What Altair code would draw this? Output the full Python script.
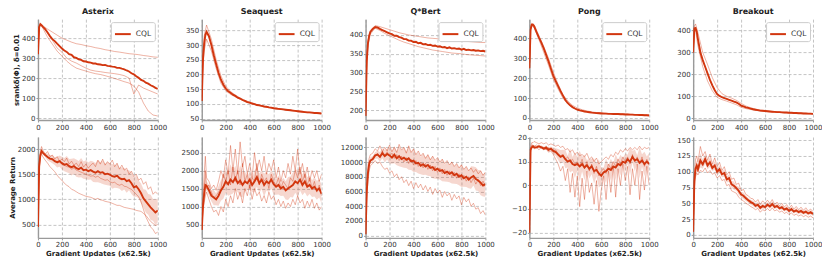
import altair as alt
import numpy as np
import pandas as pd

# ---------------- x grids (gradient updates, x62.5k) ----------------
XM = [0, 10, 20, 30, 40] + list(range(60, 1001, 20))          # 53 points
XS = [0, 10, 20, 40] + list(range(80, 1001, 40))              # 28 points

GAMES = ["Asterix", "Seaquest", "Q*Bert", "Pong", "Breakout"]
METHOD = "CQL"
RED = "#d2360f"

# ---------------- srank (top row) ----------------
AST_SR_MEAN = [320, 455, 470, 465, 458,
               445, 428, 410, 395, 385, 372, 360, 348,
               338, 331, 320, 316, 304, 301, 294, 291, 284, 283,
               279, 277, 273, 273, 269, 268, 265, 266, 261, 260,
               257, 256, 251, 251, 247, 244, 238, 233, 224, 219,
               209, 201, 191, 186, 177, 172, 164, 159, 151, 146]
AST_SR_S1 = [320, 455, 470, 462, 445, 430, 415, 400, 390, 380, 372, 368, 362,
             358, 352, 348, 342, 338, 333, 330, 326, 322, 320, 317, 313, 310, 306, 304]
AST_SR_S2 = [320, 455, 468, 450, 405, 370, 335, 310, 285, 265, 250, 242, 235,
             228, 222, 218, 212, 205, 198, 190, 182, 175, 160, 130, 75, 35, 15, 10]
AST_SR_S3 = [320, 455, 470, 455, 430, 390, 350, 330, 300, 285, 275, 262, 250,
             240, 235, 232, 228, 225, 222, 218, 212, 200, 120, 165, 150, 140, 130, 120]

SQ_SR_MEAN = [110, 250, 305, 335, 345,
              330, 300, 265, 235, 205, 182, 165, 152,
              143, 138, 131, 127, 121, 118, 113, 110, 106, 104,
              101, 99, 96, 95, 93, 91, 90, 88, 87, 85,
              84, 83, 82, 81, 80, 79, 78, 77, 76, 75,
              74, 73, 72, 71, 71, 70, 69, 69, 68, 67]
SQ_SR_S1 = [110, 270, 330, 368, 320, 250, 195, 160, 142, 130, 120, 112, 106,
            100, 96, 92, 89, 86, 84, 82, 80, 78, 76, 74, 72, 71, 70, 68]
SQ_SR_S2 = [110, 230, 280, 320, 280, 220, 170, 145, 132, 124, 116, 108, 102,
            98, 94, 90, 87, 84, 82, 80, 78, 76, 74, 72, 70, 69, 68, 66]
SQ_SR_S3 = [110, 250, 300, 345, 305, 235, 180, 152, 137, 127, 118, 110, 104,
            99, 95, 91, 88, 85, 83, 81, 79, 77, 75, 73, 71, 70, 69, 67]

QB_SR_MEAN = [185, 330, 378, 398, 408,
              416, 421, 420, 416, 413, 410, 407, 404,
              402, 398, 398, 394, 393, 389, 389, 385, 385, 381,
              382, 378, 379, 375, 376, 373, 374, 371, 372, 369,
              370, 367, 368, 365, 367, 364, 365, 363, 364, 361,
              363, 360, 361, 359, 360, 358, 359, 357, 358, 356]
QB_SR_S1 = [185, 335, 385, 412, 425, 422, 418, 414, 410, 406, 403, 400, 398,
            396, 394, 392, 391, 390, 388, 387, 386, 385, 384, 383, 382, 381, 380, 380]
QB_SR_S2 = [185, 325, 372, 402, 418, 412, 404, 398, 392, 386, 381, 377, 373,
            369, 366, 363, 360, 358, 356, 354, 352, 351, 350, 348, 347, 346, 345, 344]
QB_SR_S3 = [185, 330, 378, 408, 420, 415, 409, 403, 398, 394, 389, 385, 381,
            378, 376, 373, 371, 369, 367, 366, 364, 363, 362, 360, 359, 358, 357, 356]

PG_SR_MEAN = [250, 445, 470, 470, 462,
              432, 405, 380, 350, 318, 285, 248, 212,
              185, 160, 135, 112, 90, 75, 63, 54, 47, 42,
              38, 35, 32, 30, 28, 26, 25, 24, 23, 22,
              21, 21, 20, 20, 19, 19, 19, 18, 18, 17,
              17, 16, 16, 15, 15, 14, 14, 13, 13, 12]
PG_SR_S1 = [250, 450, 478, 470, 415, 360, 300, 230, 170, 118, 85, 63, 50,
            41, 35, 30, 27, 25, 23, 22, 21, 20, 19, 18, 17, 16, 15, 14]
PG_SR_S2 = [250, 440, 465, 455, 395, 330, 265, 195, 145, 100, 70, 52, 40,
            34, 30, 27, 24, 22, 21, 20, 19, 18, 17, 16, 15, 14, 13, 12]
PG_SR_S3 = [250, 445, 470, 462, 405, 350, 282, 212, 160, 112, 75, 54, 42,
            37, 32, 28, 26, 24, 22, 21, 20, 19, 18, 17, 16, 15, 14, 13]

BO_SR_MEAN = [300, 410, 412, 395, 360,
              300, 265, 235, 205, 175, 150, 128, 110,
              102, 96, 92, 88, 84, 80, 76, 72, 66, 58,
              54, 50, 47, 44, 41, 39, 37, 35, 34, 33,
              32, 31, 30, 29, 28, 28, 27, 26, 26, 25,
              25, 24, 24, 23, 23, 22, 22, 21, 21, 20]
BO_SR_S1 = [300, 420, 430, 390, 300, 245, 185, 140, 112, 100, 92, 82, 68,
            56, 48, 42, 37, 34, 32, 30, 29, 27, 26, 25, 24, 23, 22, 21]
BO_SR_S2 = [300, 400, 400, 330, 235, 170, 125, 95, 85, 78, 70, 62, 50,
            44, 40, 36, 33, 31, 29, 28, 27, 25, 24, 23, 22, 21, 20, 19]
BO_SR_S3 = [300, 410, 412, 360, 265, 205, 150, 110, 96, 88, 80, 72, 58,
            50, 44, 39, 35, 33, 31, 29, 28, 26, 25, 24, 23, 22, 21, 20]

# ---------------- average return (bottom row) ----------------
AST_RET_MEAN = [450, 1650, 1880, 1960, 1930,
                1880, 1840, 1810, 1800, 1760, 1740, 1760, 1720,
                1690, 1700, 1660, 1640, 1660, 1620, 1600, 1630, 1580, 1590,
                1560, 1580, 1550, 1530, 1560, 1530, 1540, 1500, 1510, 1490,
                1460, 1450, 1470, 1420, 1400, 1410, 1360, 1380, 1320, 1240,
                1260, 1200, 1120, 1020, 960, 900, 840, 790, 740, 780]
AST_RET_S1 = [450, 1700, 1950, 2050, 1980,
              1900, 1950, 1850, 1880, 1800, 1850, 1760, 1800,
              1750, 1820, 1700, 1760, 1680, 1720, 1650, 1750, 1640, 1700,
              1620, 1680, 1720, 1650, 1780, 1700, 1800, 1680, 1750, 1700,
              1780, 1650, 1720, 1600, 1680, 1580, 1620, 1500, 1560, 1450,
              1500, 1380, 1420, 1300, 1350, 1200, 1250, 1100, 1150, 1100]
AST_RET_S2 = [450, 1600, 1850, 1900, 1850,
              1780, 1720, 1650, 1600, 1550, 1480, 1420, 1380,
              1320, 1280, 1250, 1200, 1180, 1150, 1120, 1100, 1080, 1060,
              1050, 1040, 1020, 1000, 1020, 990, 980, 960, 950, 940,
              920, 900, 880, 880, 860, 840, 830, 820, 810, 800,
              780, 770, 760, 720, 680, 620, 560, 520, 480, 500]
AST_RET_S3 = [450, 1650, 1880, 1950, 1920,
              1880, 1830, 1800, 1780, 1760, 1720, 1740, 1700,
              1680, 1650, 1640, 1600, 1620, 1580, 1560, 1540, 1520, 1500,
              1480, 1460, 1470, 1440, 1460, 1420, 1400, 1380, 1390, 1350,
              1330, 1340, 1300, 1280, 1300, 1260, 1250, 1220, 1200, 1150,
              1100, 1050, 950, 800, 650, 550, 450, 400, 320, 350]

SQ_RET_MEAN = [350, 1000, 1350, 1600, 1580,
               1450, 1300, 1250, 1200, 1300, 1450, 1550, 1700,
               1620, 1750, 1680, 1800, 1650, 1720, 1600, 1700, 1650, 1750,
               1600, 1700, 1820, 1650, 1750, 1600, 1700, 1650, 1750, 1620,
               1550, 1600, 1500, 1550, 1450, 1500, 1550, 1600, 1700, 1650,
               1750, 1600, 1700, 1550, 1600, 1500, 1550, 1450, 1500, 1350]
SQ_RET_S1 = [350, 1200, 1900, 2400, 1800,
             1700, 1500, 1600, 1450, 1700, 2000, 1800, 2300,
             1900, 2700, 2000, 2600, 1900, 2800, 2100, 2400, 1900, 2200,
             1800, 2500, 2000, 2300, 2000, 2400, 1900, 2200, 2000, 2300,
             1800, 2100, 1700, 2000, 1800, 2200, 1900, 2400, 2000, 2600,
             1900, 2200, 1800, 2100, 1700, 2000, 1800, 2000, 1700, 1900]
SQ_RET_S2 = [350, 900, 1100, 1300, 1400,
             1200, 1000, 850, 900, 750, 1000, 850, 1200,
             1000, 1300, 1100, 1500, 1200, 1400, 1100, 1500, 1300, 1600,
             1200, 1500, 1300, 1400, 1150, 1300, 1100, 1400, 1200, 1300,
             1050, 1200, 1000, 1150, 950, 1100, 1000, 1200, 1050, 1300,
             1100, 1200, 950, 1150, 1000, 1200, 950, 1100, 900, 1000]
SQ_RET_S3 = [350, 1000, 1500, 2000, 1500,
             1600, 1400, 1250, 1300, 1400, 1500, 1900, 1700,
             2000, 1600, 2100, 1700, 2000, 1600, 2200, 1700, 1900, 1500,
             1800, 1700, 2200, 1600, 1900, 1700, 1800, 1500, 1900, 1700,
             1600, 1800, 1500, 1700, 1600, 1500, 1800, 1700, 2000, 1800,
             2100, 1700, 1900, 1600, 1800, 1500, 1700, 1400, 1600, 1300]

QB_RET_MEAN = [200, 6000, 8500, 9700, 10200,
               10400, 10900, 11000, 10700, 11200, 10800, 11100, 10900,
               10600, 11000, 10500, 10800, 10400, 10600, 10300, 10500, 10100, 10200,
               9800, 9900, 9500, 9700, 9400, 9600, 9200, 9300, 8900, 9100,
               8800, 8900, 8500, 8700, 8400, 8600, 8200, 8400, 8000, 8200,
               7800, 8000, 7600, 7900, 8100, 7700, 7500, 7200, 6800, 7000]
QB_RET_S1 = [200, 7000, 9500, 10500, 11000,
             11200, 11800, 11500, 12200, 11400, 12000, 11500, 12300,
             11400, 12000, 11300, 12400, 11600, 12000, 11200, 12200, 11300, 11800,
             11000, 11500, 10800, 11200, 10500, 11000, 10300, 10800, 10200, 10600,
             10000, 10400, 9800, 10200, 9600, 10000, 9400, 9800, 9200, 9600,
             9000, 9400, 8800, 9200, 8600, 9000, 8400, 8800, 8200, 8600]
QB_RET_S2 = [200, 5000, 7500, 8800, 9500,
             9800, 10200, 9800, 10000, 9400, 9000, 9200, 8500,
             8800, 8000, 8400, 7600, 8000, 7200, 7600, 6800, 7400, 6400,
             7200, 6500, 7000, 6200, 6800, 6000, 6600, 5600, 6400, 5800,
             6200, 5200, 6000, 5400, 5800, 4800, 5600, 5000, 5400, 4200,
             5200, 4600, 5000, 4000, 4400, 3600, 3800, 3000, 3400, 2800]
QB_RET_S3 = [200, 6000, 8500, 9800, 10200,
             10300, 10800, 11200, 10600, 11500, 10900, 11400, 10800,
             11200, 10500, 11000, 10200, 10800, 10000, 10600, 9800, 10400, 9600,
             10200, 9400, 10000, 9200, 9800, 9000, 9600, 8800, 9400, 8600,
             9200, 8400, 9000, 8200, 8800, 8000, 8600, 7800, 8400, 7600,
             8200, 7400, 8000, 7200, 7800, 7000, 7600, 6800, 7400, 6600]

PG_RET_MEAN = [-20, 15, 16, 16.5, 16,
               16, 16.5, 16, 15.5, 16, 15, 15.5, 14.5,
               14, 13, 12, 12.5, 11, 10, 10.5, 9, 8.5, 9,
               8, 9, 7.5, 8.5, 7, 8, 6, 6.5, 5, 4,
               5.5, 6, 7, 6.5, 8, 7.5, 9, 8.5, 10, 9.5,
               11, 10, 12, 10.5, 11, 9.5, 10.5, 9, 10, 9]
PG_RET_S1 = [-20, 16, 18, 18, 18.5,
             18, 17.5, 18, 17.5, 18, 17, 17.5, 17,
             16.5, 17, 16, 16.5, 15, 15.5, 14, 15, 13, 14,
             12.5, 13, 12, 13.5, 11, 12, 10, 11.5, 9, 10,
             11, 12, 11, 13, 12, 14, 13, 15, 14, 15.5,
             14.5, 16, 15, 16, 15, 16.5, 15, 16, 15.5, 16]
PG_RET_S2 = [-20, 14, 16, 16, 15.5,
             16, 15, 16, 15, 15.5, 14, 14.5, 13,
             11, 9, 6, 8, 2, 7, -3, 5, -5, 4,
             -9, 3, -6, 6, -3, 1, -8, 2, -11, -2,
             4, -6, 6, -3, 8, -5, 7, 0, 9, 2,
             8, -4, 7, 0, 9, -6, 6, -2, 8, 0]
PG_RET_S3 = [-20, 15, 17, 17, 16.5,
             17, 16, 16.5, 16, 15, 16, 15, 14,
             15, 13, 12.5, 13, 11, 12, 10, 11, 9, 10,
             8, 11, 7, 10, 6, 9, 5, 8, 4, 6,
             7, 5, 9, 7, 10, 8, 11, 9, 12, 10,
             12, 9, 13, 10, 12, 9, 12, 8, 11, 9]

BO_RET_MEAN = [5, 85, 105, 110, 104,
               118, 112, 120, 110, 115, 106, 110, 100,
               104, 96, 98, 88, 90, 80, 78, 74, 70, 64,
               62, 58, 55, 52, 50, 46, 48, 43, 46, 44,
               48, 45, 49, 44, 46, 42, 44, 40, 42, 38,
               41, 37, 39, 36, 38, 35, 37, 34, 36, 33]
BO_RET_S1 = [5, 95, 120, 125, 115,
             140, 125, 132, 118, 128, 112, 122, 108,
             115, 102, 108, 95, 100, 88, 90, 80, 82, 70,
             72, 64, 62, 58, 57, 52, 56, 48, 54, 50,
             55, 50, 56, 48, 52, 46, 50, 44, 48, 42,
             47, 41, 45, 40, 44, 39, 43, 38, 41, 37]
BO_RET_S2 = [5, 75, 92, 98, 95,
             102, 100, 106, 98, 102, 96, 98, 90,
             94, 86, 88, 78, 80, 70, 68, 66, 60, 56,
             54, 50, 48, 45, 43, 40, 42, 36, 40, 38,
             42, 38, 43, 38, 40, 36, 38, 34, 36, 32,
             35, 31, 33, 30, 32, 29, 31, 28, 30, 27]
BO_RET_S3 = [5, 85, 102, 108, 100,
             115, 110, 122, 112, 114, 108, 108, 102,
             102, 98, 96, 90, 88, 82, 76, 76, 68, 66,
             60, 60, 54, 54, 49, 48, 46, 45, 44, 45,
             46, 47, 47, 46, 44, 44, 42, 42, 40, 40,
             39, 39, 37, 38, 36, 37, 35, 36, 34, 35]

# axis domains and tick values
SR_DOMAINS = [[-10, 495], [45, 388], [174, 442], [-11, 498], [-8, 452]]
SR_TICKS = [[0, 100, 200, 300, 400], [50, 100, 150, 200, 250, 300, 350],
            [200, 250, 300, 350, 400], [0, 100, 200, 300, 400, 500], [0, 100, 200, 300, 400]]
RET_DOMAINS = [[233, 2240], [127, 2936], [-300, 13400], [-22.2, 20.4], [-4.6, 155]]
RET_TICKS = [[500, 1000, 1500, 2000], [500, 1000, 1500, 2000, 2500],
             [0, 2000, 4000, 6000, 8000, 10000, 12000], [-20, -10, 0, 10, 20],
             [0, 25, 50, 75, 100, 125, 150]]
X_TICKS = [0, 200, 400, 600, 800, 1000]

SR_MEANS = [AST_SR_MEAN, SQ_SR_MEAN, QB_SR_MEAN, PG_SR_MEAN, BO_SR_MEAN]
SR_SEEDS = [[AST_SR_S1, AST_SR_S2, AST_SR_S3], [SQ_SR_S1, SQ_SR_S2, SQ_SR_S3],
            [QB_SR_S1, QB_SR_S2, QB_SR_S3], [PG_SR_S1, PG_SR_S2, PG_SR_S3],
            [BO_SR_S1, BO_SR_S2, BO_SR_S3]]
RET_MEANS = [AST_RET_MEAN, SQ_RET_MEAN, QB_RET_MEAN, PG_RET_MEAN, BO_RET_MEAN]
RET_SEEDS = [[AST_RET_S1, AST_RET_S2, AST_RET_S3], [SQ_RET_S1, SQ_RET_S2, SQ_RET_S3],
             [QB_RET_S1, QB_RET_S2, QB_RET_S3], [PG_RET_S1, PG_RET_S2, PG_RET_S3],
             [BO_RET_S1, BO_RET_S2, BO_RET_S3]]

for m in SR_MEANS + RET_MEANS:
    assert len(m) == len(XM), len(m)
for ss in SR_SEEDS:
    for s in ss:
        assert len(s) == len(XS), len(s)
for ss in RET_SEEDS:
    for s in ss:
        assert len(s) == len(XM), len(s)

W, H = 120, 101
SR_TITLE = "srank\u03b4(\u03a6), \u03b4=0.01"


def panel(mean, x_seed, seeds, ydom, yticks, title=None, ytitle=None, xtitle=None,
          legend=False, band=False):
    mdf = pd.DataFrame({"x": XM, "y": mean, "method": [METHOD] * len(mean)})
    sdf = pd.concat([pd.DataFrame({"x": x_seed, "y": s, "seed": [k] * len(s)})
                     for k, s in enumerate(seeds)], ignore_index=True)
    xscale = alt.Scale(domain=[0, 1000], nice=False, zero=False)
    yscale = alt.Scale(domain=ydom, nice=False, zero=False)
    xaxis = alt.Axis(values=X_TICKS, title=xtitle, format="d")
    yaxis = alt.Axis(values=yticks, title=ytitle, format="d")
    x = alt.X("x:Q", scale=xscale, axis=xaxis)
    y = alt.Y("y:Q", scale=yscale, axis=yaxis)
    layers = []
    if band:
        arr = np.array(seeds, dtype=float)
        se = arr.std(axis=0, ddof=1) / np.sqrt(arr.shape[0])
        bdf = pd.DataFrame({"x": XM, "lo": np.array(mean) - se, "hi": np.array(mean) + se})
        layers.append(alt.Chart(bdf).mark_area(color=RED, opacity=0.2, clip=True).encode(
            x=x, y=alt.Y("lo:Q", scale=yscale, axis=yaxis), y2="hi:Q"))
    layers.append(alt.Chart(sdf).mark_line(
        color=RED, strokeWidth=1.0, opacity=0.38, clip=True
    ).encode(x=x, y=y, detail="seed:N"))
    if legend:
        layers.append(alt.Chart(mdf).mark_line(strokeWidth=1.9, clip=True).encode(
            x=x, y=y,
            color=alt.Color("method:N", scale=alt.Scale(domain=[METHOD], range=[RED]),
                            legend=alt.Legend(orient="top-right", title=None))))
    else:
        layers.append(alt.Chart(mdf).mark_line(strokeWidth=1.9, clip=True, color=RED)
                      .encode(x=x, y=y))
    ch = alt.layer(*layers).properties(width=W, height=H)
    if title:
        ch = ch.properties(title=alt.TitleParams(text=title))
    return ch


panels = []
for i, g in enumerate(GAMES):
    panels.append(panel(SR_MEANS[i], XS, SR_SEEDS[i], SR_DOMAINS[i], SR_TICKS[i],
                        title=g, ytitle=SR_TITLE if i == 0 else None, legend=True))
for i, g in enumerate(GAMES):
    panels.append(panel(RET_MEANS[i], XM, RET_SEEDS[i], RET_DOMAINS[i], RET_TICKS[i],
                        ytitle="Average Return" if i == 0 else None,
                        xtitle="Gradient Updates (x62.5k)", band=True))

chart = alt.concat(*panels, columns=5, spacing={"row": 17, "column": 44}, bounds="flush")
chart = chart.resolve_scale(color="independent", x="independent", y="independent")
chart = chart.resolve_legend(color="independent")
chart = chart.properties(padding={"left": 0, "top": 0, "right": 0, "bottom": 0})
chart = chart.configure_view(stroke=None).configure_axis(
    grid=True, gridDash=[3, 2], gridColor="#b5b5b5", gridWidth=0.8,
    domainColor="#9a9a9a", domainWidth=1.4, tickColor="#9a9a9a", tickSize=2,
    labelFont="DejaVu Sans", labelFontSize=7, labelColor="#333333", labelPadding=1,
    labelFlush=False,
    titleFont="DejaVu Sans", titleFontSize=7, titleFontWeight="bold", titleColor="#222222",
    titlePadding=2,
).configure_title(
    font="DejaVu Sans", fontSize=8, fontWeight="bold", color="#222222", offset=3
).configure_legend(
    strokeColor="#cccccc", fillColor="white", padding=3, cornerRadius=2,
    labelFont="DejaVu Sans", labelFontSize=7.5, labelColor="#333333",
    symbolType="stroke", symbolStrokeWidth=2, symbolSize=250, offset=3
)

chart.save("out.html", embed_options={"renderer": "svg", "actions": False})
